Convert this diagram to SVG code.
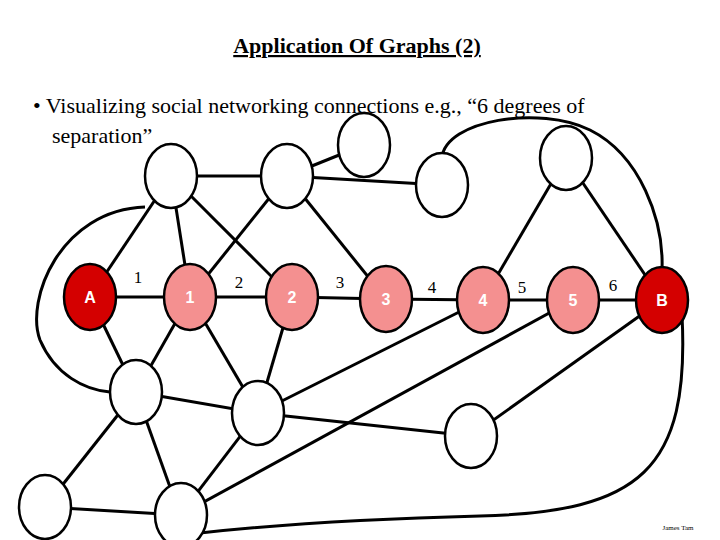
<svg xmlns="http://www.w3.org/2000/svg" width="720" height="540" viewBox="0 0 720 540">
<style>
.e{stroke:#000;stroke-width:3;fill:none}
.n{fill:#fff;stroke:#000;stroke-width:2.5}
.p{fill:#f49090;stroke:#000;stroke-width:2.5}
.r{fill:#d40000;stroke:#000;stroke-width:2.5}
.nl{font-family:"Liberation Sans",Arial,sans-serif;font-size:16px;font-weight:bold;fill:#fff;text-anchor:middle}
.s{font-family:"Liberation Serif","DejaVu Serif",serif;fill:#000}
</style>
<rect width="720" height="540" fill="#fff"/>
<text class="s" x="357" y="53" font-size="22" font-weight="bold" text-anchor="middle" text-decoration="underline">Application Of Graphs (2)</text>
<text class="s" x="33" y="113" font-size="22">• Visualizing social networking connections e.g., “6 degrees of</text>
<text class="s" x="52" y="143" font-size="22">separation”</text>
<g id="connectors">
<line class="e" x1="90" y1="297" x2="190" y2="297"/>
<line class="e" x1="190" y1="297" x2="292" y2="297"/>
<line class="e" x1="292" y1="297" x2="386" y2="299"/>
<line class="e" x1="386" y1="299" x2="483" y2="300"/>
<line class="e" x1="483" y1="300" x2="573" y2="300"/>
<line class="e" x1="573" y1="300" x2="662" y2="300"/>
<line class="e" x1="171" y1="176" x2="287" y2="176"/>
<line class="e" x1="287" y1="176" x2="364" y2="145"/>
<line class="e" x1="287" y1="176" x2="442" y2="185"/>
<line class="e" x1="171" y1="176" x2="90" y2="297"/>
<line class="e" x1="171" y1="176" x2="190" y2="297"/>
<line class="e" x1="171" y1="176" x2="292" y2="297"/>
<line class="e" x1="287" y1="176" x2="190" y2="297"/>
<line class="e" x1="287" y1="176" x2="386" y2="299"/>
<line class="e" x1="566" y1="158" x2="483" y2="300"/>
<line class="e" x1="566" y1="158" x2="662" y2="300"/>
<line class="e" x1="90" y1="297" x2="136" y2="392"/>
<line class="e" x1="190" y1="297" x2="136" y2="392"/>
<line class="e" x1="190" y1="297" x2="258" y2="413"/>
<line class="e" x1="292" y1="297" x2="258" y2="413"/>
<line class="e" x1="136" y1="392" x2="258" y2="413"/>
<line class="e" x1="258" y1="413" x2="483" y2="300"/>
<line class="e" x1="258" y1="413" x2="471" y2="436"/>
<line class="e" x1="471" y1="436" x2="662" y2="300"/>
<line class="e" x1="136" y1="392" x2="45" y2="507"/>
<line class="e" x1="136" y1="392" x2="180" y2="515"/>
<line class="e" x1="45" y1="507" x2="180" y2="515"/>
<line class="e" x1="258" y1="413" x2="180" y2="515"/>
<line class="e" x1="180" y1="515" x2="573" y2="300"/>
<path class="e" d="M145,207 C60,210 25,300 40,340 C55,375 85,390 110,392"/>
<path class="e" d="M442,158 C445,120 540,105 590,130 C640,155 664,220 662,270"/>
<path class="e" d="M200,533 C300,522 400,518 480,516 C640,512 690,470 682,315"/>
</g>
<g id="nodes">
<g id="T1"><ellipse class="n" cx="171" cy="176" rx="26" ry="32"/></g>
<g id="T2"><ellipse class="n" cx="287" cy="176" rx="26" ry="32"/></g>
<g id="T3"><ellipse class="n" cx="364" cy="145" rx="26" ry="32"/></g>
<g id="T4"><ellipse class="n" cx="442" cy="185" rx="26" ry="32"/></g>
<g id="T5"><ellipse class="n" cx="566" cy="158" rx="26" ry="32"/></g>
<g id="L1"><ellipse class="n" cx="136" cy="392" rx="26" ry="32"/></g>
<g id="L2"><ellipse class="n" cx="258" cy="413" rx="26" ry="32"/></g>
<g id="L3"><ellipse class="n" cx="471" cy="436" rx="26" ry="32"/></g>
<g id="L4"><ellipse class="n" cx="45" cy="507" rx="26" ry="32"/></g>
<g id="L5"><ellipse class="n" cx="181" cy="515" rx="26" ry="32"/></g>
<g id="A"><ellipse class="r" cx="90" cy="297" rx="26" ry="33"/><text class="nl" x="90" y="303">A</text></g>
<g id="N1"><ellipse class="p" cx="190" cy="297" rx="26" ry="33"/><text class="nl" x="190" y="303">1</text></g>
<g id="N2"><ellipse class="p" cx="292" cy="297" rx="26" ry="33"/><text class="nl" x="292" y="303">2</text></g>
<g id="N3"><ellipse class="p" cx="386" cy="299" rx="26" ry="33"/><text class="nl" x="386" y="305">3</text></g>
<g id="N4"><ellipse class="p" cx="483" cy="300" rx="26" ry="33"/><text class="nl" x="483" y="306">4</text></g>
<g id="N5"><ellipse class="p" cx="573" cy="300" rx="26" ry="33"/><text class="nl" x="573" y="306">5</text></g>
<g id="B"><ellipse class="r" cx="662" cy="300" rx="26" ry="33"/><text class="nl" x="662" y="306">B</text></g>
</g>
<g class="s" font-size="17" text-anchor="middle">
<text x="138" y="283">1</text><text x="239" y="288">2</text><text x="340" y="288">3</text>
<text x="432" y="293">4</text><text x="522" y="293">5</text><text x="613" y="291">6</text>
</g>
<text class="s" x="678" y="530" font-size="7" text-anchor="middle">James Tam</text>
</svg>
